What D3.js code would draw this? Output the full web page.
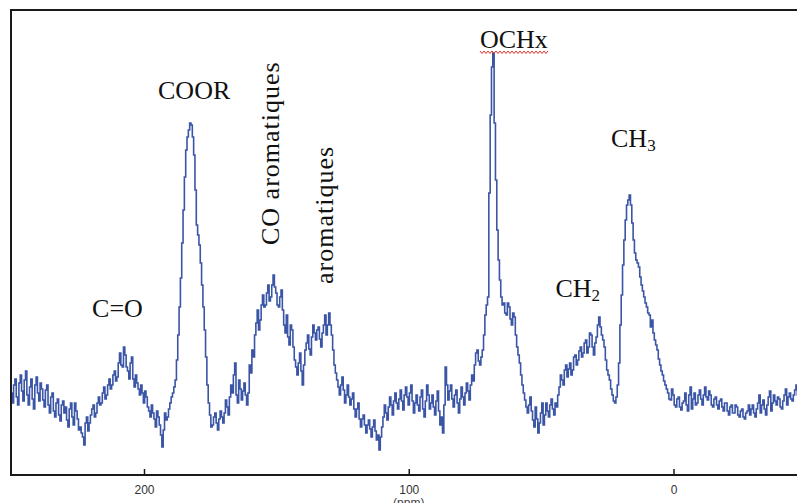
<!DOCTYPE html>
<html><head><meta charset="utf-8">
<script src="https://cdn.jsdelivr.net/npm/d3@7"></script>
<style>html,body{margin:0;padding:0;background:#fff;overflow:hidden}</style>
</head><body>
<svg id="c" width="797" height="503"></svg>
<script>
// ---- data ----
const startPpm = 250;   // first sample, ppm
const stepPpm = 0.5;    // sample spacing, ppm (decreasing)
const intensity = [
  82,72,90,96,78,70,92,100,84,74,95,104,80,70,88,96,76,66,90,98,
  82,74,92,86,75,68,85,90,70,62,78,82,64,58,72,76,60,54,70,74,
  62,68,55,48,66,72,58,50,72,64,56,45,48,42,38,30,52,58,44,52,
  60,66,70,58,62,72,78,70,72,82,88,76,80,90,96,86,90,100,104,94,
  98,112,122,110,108,128,120,108,104,96,112,118,96,88,100,92,86,80,90,82,
  72,84,78,68,64,58,70,62,56,48,64,58,50,40,28,45,62,55,58,66,
  72,78,82,88,95,115,140,168,197,232,265,298,325,338,345,352,350,338,320,285,
  250,240,230,212,190,168,145,118,90,72,60,48,50,58,62,52,45,56,64,58,
  52,62,75,68,60,78,90,82,100,112,80,72,95,86,75,84,92,80,70,82,
  110,102,125,118,140,152,165,145,155,170,180,168,170,182,190,174,178,190,200,188,
  182,170,168,178,185,165,150,142,160,138,130,150,145,128,115,108,100,112,122,104,
  90,110,125,132,140,126,120,138,150,142,135,145,148,136,128,142,150,160,140,150,
  162,150,140,125,110,102,95,88,80,90,98,85,72,80,90,78,70,76,82,66,
  58,66,72,56,48,56,60,50,42,50,55,46,38,48,55,44,35,40,25,38,
  48,58,70,62,55,68,78,70,60,74,82,72,66,76,85,74,65,80,88,78,
  70,82,90,74,62,72,80,70,64,78,85,66,58,74,90,80,66,72,80,68,
  60,74,84,64,50,58,42,70,108,90,75,84,90,76,68,80,85,72,62,76,
  88,78,70,82,92,84,75,90,100,94,110,122,125,114,110,118,125,140,160,170,
  178,282,360,408,422,352,295,245,215,195,178,170,172,162,160,172,168,156,150,162,
  158,140,128,120,112,100,90,82,75,68,62,70,78,64,55,48,68,56,42,52,
  62,72,50,60,72,64,58,70,76,66,60,72,68,80,88,100,95,90,105,110,
  98,106,112,100,105,118,120,110,115,124,128,118,122,132,135,122,128,142,140,128,
  120,132,138,150,158,148,140,135,128,115,105,100,95,86,80,74,72,78,90,112,
  150,180,210,235,255,270,275,280,270,252,235,222,215,212,208,198,190,184,178,172,
  168,162,160,148,155,142,135,130,125,116,110,104,100,94,90,86,82,76,75,86,
  80,70,68,76,78,68,65,72,74,82,70,64,80,88,66,76,82,70,72,80,
  85,76,70,80,88,78,75,84,80,70,68,76,78,70,66,74,76,68,64,72,
  72,64,60,68,70,62,62,70,68,60,58,64,66,58,56,62,64,70,60,66,
  70,62,58,66,72,80,62,70,75,66,60,70,78,84,64,72,80,74,70,78,
  76,68,66,74,80,86,70,78,82,76,74,80,85,90,80
];
const tickValues = [200, 100, 0];
const tickLabels = ["200", "100", "0"];
const axisTitle = "(ppm)";
// horizontal peak labels: [main text, subscript], anchored at (ppm, intensity level)
const labelMain = ["C=O", "COOR", "OCHx", "CH", "CH"];
const labelSub  = ["", "", "", "3", "2"];
const labelPpm  = [219.6, 194.7, 73.1, 23.6, 44.6];
const labelLevel = [158, 376, 427, 328, 178];
// vertical labels
const vLabelText = ["CO aromatiques", "aromatiques"];
const vLabelPpm = [149.0, 128.6];
const vLabelLevel = [230, 191];

// ---- drawing ----
const svg = d3.select("#c");
const frame = {left: 11, top: 10, bottom: 475, right: 812};
const x = d3.scaleLinear().domain([200, 0]).range([144, 673.5]);
const y = d3.scaleLinear().domain([0, 465]).range([475, 10]);

const pts = intensity.map((v, i) => [startPpm - i * stepPpm, v]);

svg.append("defs").append("clipPath").attr("id", "clip")
  .append("rect").attr("x", frame.left).attr("y", frame.top)
  .attr("width", frame.right - frame.left).attr("height", frame.bottom - frame.top);

svg.append("path")
  .datum(pts)
  .attr("clip-path", "url(#clip)")
  .attr("fill", "none")
  .attr("stroke", "#3a55a6")
  .attr("stroke-width", 1.6)
  .attr("stroke-linejoin", "miter")
  .attr("d", d3.line().x(d => x(d[0])).y(d => y(d[1])).curve(d3.curveStep));

// frame
svg.append("path")
  .attr("fill", "none").attr("stroke", "#1a1a1a").attr("stroke-width", 2)
  .attr("d", `M${frame.right},${frame.top}H${frame.left}V${frame.bottom}H${frame.right}`);

// bottom axis
const axis = d3.axisBottom(x).tickValues(tickValues)
  .tickFormat((d, i) => tickLabels[i]).tickSizeInner(-6).tickSizeOuter(0).tickPadding(10);
const gAxis = svg.append("g").attr("transform", `translate(0,${frame.bottom})`).call(axis);
gAxis.select(".domain").remove();
gAxis.selectAll(".tick line").attr("stroke", "#1a1a1a").attr("stroke-width", 1.5);
gAxis.selectAll(".tick text").attr("fill", "#333").style("font-family", "Liberation Sans, Arial, sans-serif")
  .style("font-size", "12px");

svg.append("text").attr("x", x(100)).attr("y", 507).attr("text-anchor", "middle")
  .attr("fill", "#444").style("font-family", "Liberation Sans, Arial, sans-serif")
  .style("font-size", "12px").text(axisTitle);

// peak labels
const serif = "Liberation Serif, Times New Roman, serif";
labelMain.forEach((t, i) => {
  const tx = svg.append("text").attr("x", x(labelPpm[i])).attr("y", y(labelLevel[i]))
    .attr("fill", "#111").style("font-family", serif).style("font-size", "26px");
  tx.append("tspan").text(t);
  if (labelSub[i]) tx.append("tspan").attr("dy", 4).style("font-size", "17px").text(labelSub[i]);
  if (t === "OCHx") {
    // spell-check style wavy underline
    const bb = tx.node().getBBox();
    let d = `M${bb.x},${y(labelLevel[i]) + 3}`;
    for (let k = 0, xx = bb.x; xx < bb.x + bb.width; k++) {
      xx += 2;
      d += `L${xx},${y(labelLevel[i]) + (k % 2 ? 3 : 5.5)}`;
    }
    svg.append("path").attr("d", d).attr("fill", "none").attr("stroke", "#e0302a").attr("stroke-width", 1);
  }
});
vLabelText.forEach((t, i) => {
  svg.append("text")
    .attr("transform", `translate(${x(vLabelPpm[i])},${y(vLabelLevel[i])}) rotate(-90)`)
    .attr("fill", "#111").style("font-family", serif).style("font-size", "26px")
    .style("letter-spacing", "1px").text(t);
});
</script>
</body></html>
